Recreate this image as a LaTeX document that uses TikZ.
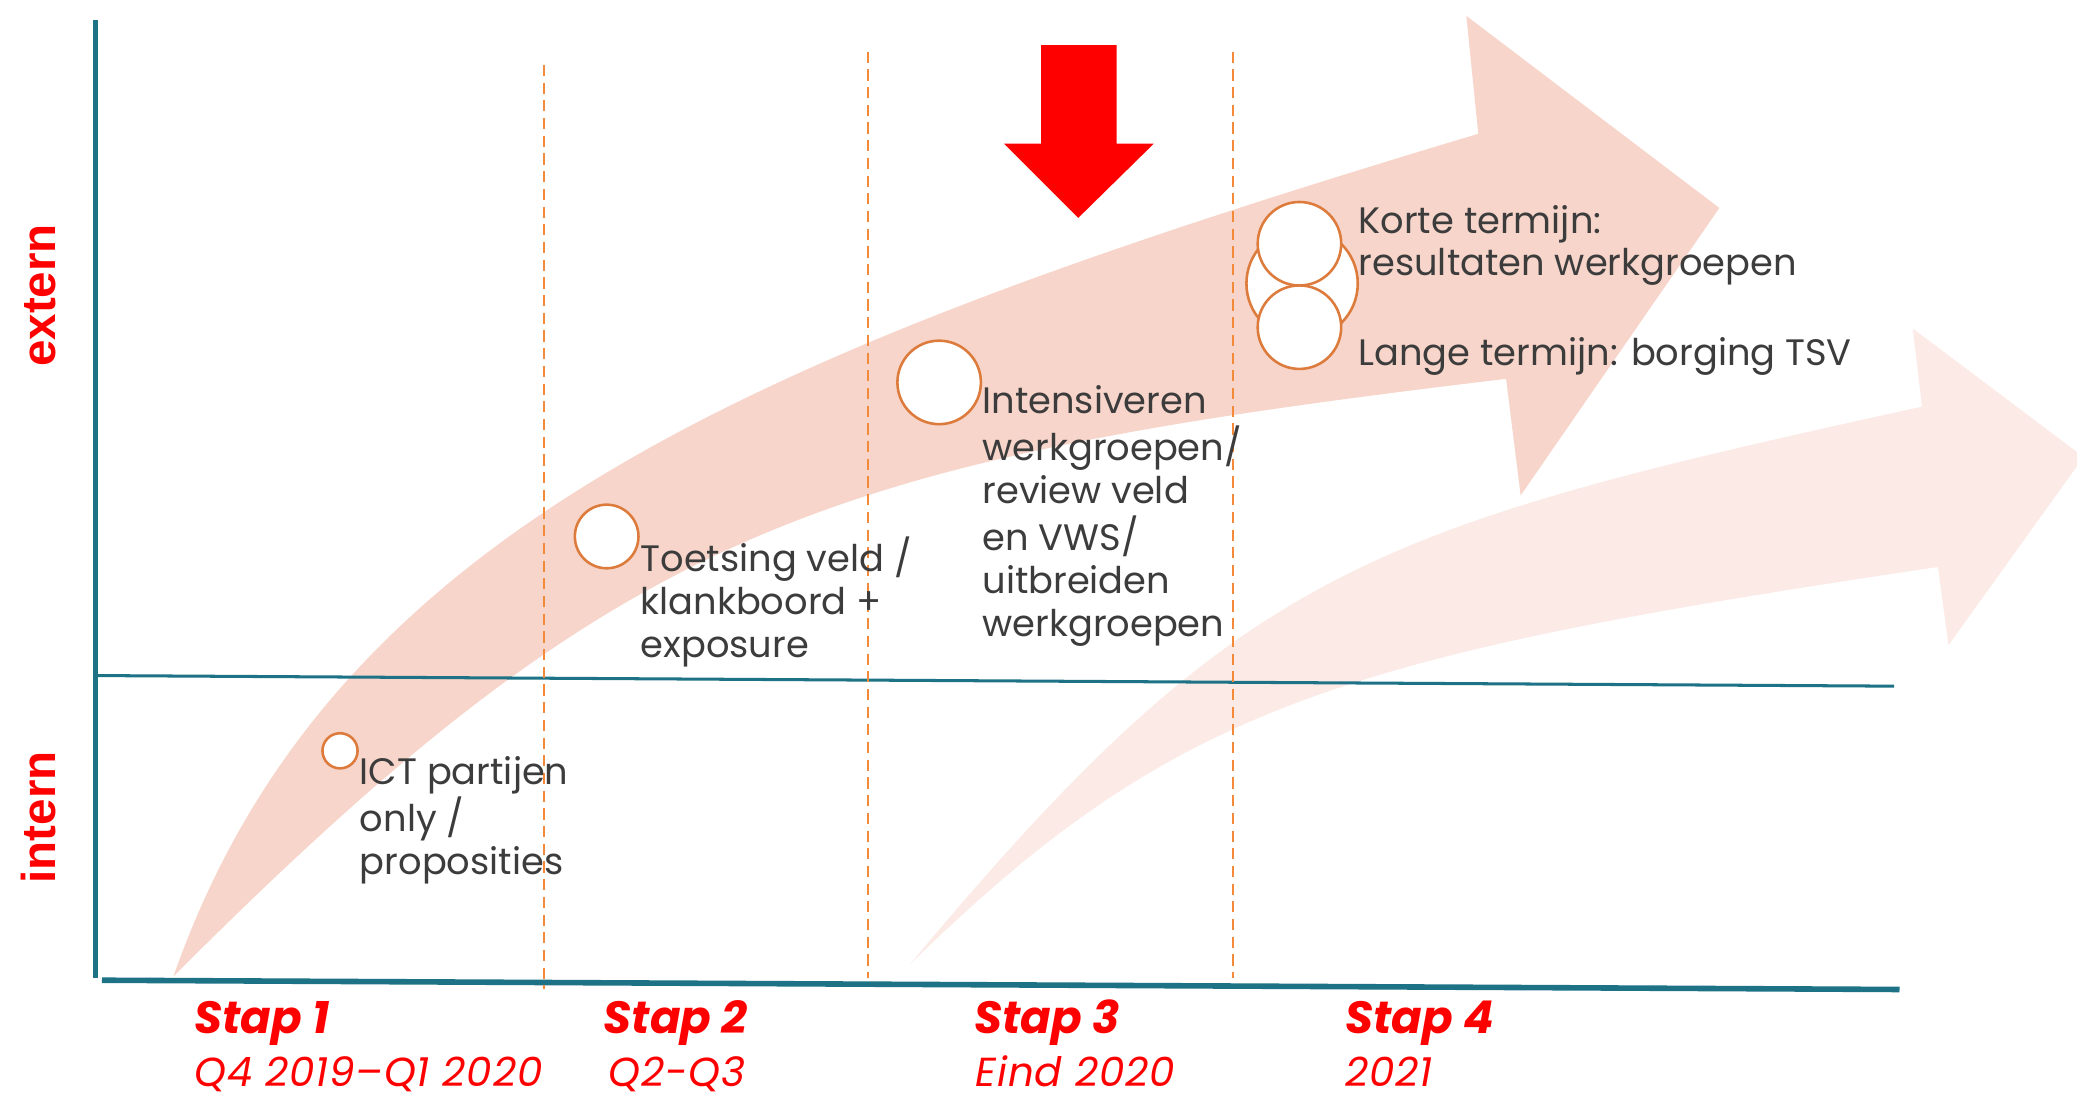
\documentclass[tikz,border=0pt]{standalone}
\usepackage{fontspec}
\setmainfont{Poppins}
\newfontfamily\axisfont{Liberation Sans}
\definecolor{bandA}{HTML}{F7D5CA}
\definecolor{bandB}{HTML}{FCEAE6}
\definecolor{tealc}{HTML}{1D7286}
\definecolor{dashc}{HTML}{F28A3A}
\definecolor{ringc}{HTML}{DC7B3B}
\definecolor{txtc}{HTML}{3C3C3C}
\definecolor{redc}{HTML}{FF0000}
\tikzset{
  ring/.style={circle, draw=ringc, fill=white, line width=0.55pt, inner sep=0pt},
  desc/.style={anchor=base west, inner sep=0pt, text=txtc, font=\fontsize{7.9pt}{9.16pt}\selectfont},
  staplbl/.style={anchor=base west, inner sep=0pt, text=redc, font=\fontsize{9.7pt}{11pt}\selectfont\bfseries\itshape},
  datelbl/.style={anchor=base west, inner sep=0pt, text=redc, font=\fontsize{8.7pt}{10pt}\selectfont\itshape\addfontfeature{LetterSpace=2}},
  sidelbl/.style={anchor=base, inner sep=0pt, rotate=90, text=redc, font=\axisfont\fontsize{10.2pt}{12pt}\selectfont\bfseries},
  phase/.style={dashc, line width=0.45pt, dash pattern=on 2.4pt off 1.4pt},
  axisline/.style={tealc, line width=0.95pt},
}
\begin{document}
\begin{tikzpicture}[x=0.01cm, y=-0.01cm]
\useasboundingbox (0,0) rectangle (1568,827);
\clip (0,0) rectangle (1568,827);
\fill[white] (0,0) rectangle (1568,827);

% second (light) arrow
\fill[bandB] (687,728) .. controls (937,428) and (1031,399) .. (1451,307)
  -- (1444,248) -- (1573,345) -- (1471,487) -- (1463,428)
  .. controls (1013,495) and (887,532) .. (687,728) -- cycle;

% main arrow
\fill[bandA] (131,737) .. controls (250,397) and (576,263) .. (1116,101)
  -- (1107,12) -- (1298,157) -- (1148,374) -- (1137,286)
  .. controls (617,348) and (471,397) .. (131,737) -- cycle;

% axes
\coordinate (ytop) at (72,15);
\coordinate (ybot) at (72,738);
\coordinate (xl) at (77,740);
\coordinate (xr) at (1434,747);
\coordinate (ml) at (72,510);
\coordinate (mr) at (1430,518);
\draw[axisline] (ytop) -- (ybot);
\draw[axisline, line width=1.2pt] (xl) -- (xr);
\draw[axisline, line width=0.65pt] (ml) -- (mr);

% phase separators
\coordinate (d1t) at (411,49);  \coordinate (d1b) at (411,747);
\coordinate (d2t) at (655,39);  \coordinate (d2b) at (655,738);
\coordinate (d3t) at (931,39);  \coordinate (d3b) at (931,738);
\draw[phase] (d1t) -- (d1b);
\draw[phase] (d2t) -- (d2b);
\draw[phase] (d3t) -- (d3b);

% red pointer arrow
\fill[redc] (786,34) -- (843,34) -- (843,108.5) -- (871,108.5) -- (814,164.5) -- (758,108.5) -- (786,108.5) -- cycle;

% side labels
\node[sidelbl] (extern) at (42,223) {extern};
\node[sidelbl] (intern) at (42,617) {intern};

% milestone circles
\node[ring, minimum size=0.265cm] (c1) at (256.7,566.8) {};
\node[ring, minimum size=0.48cm] (c2) at (458,405) {};
\node[ring, minimum size=0.63cm] (c3) at (709,288.7) {};
\node[ring, minimum size=0.84cm] (c4) at (983,214) {};
\node[ring, minimum size=0.63cm] (c4a) at (981,184) {};
\node[ring, minimum size=0.63cm] (c4b) at (981,247) {};

% descriptions
\node[desc] (t1) at (271,592) {\begin{tabular}[t]{@{}l@{}}ICT partijen\\only /\\proposities\end{tabular}};
\node[desc] (t2) at (483,431.6) {\begin{tabular}[t]{@{}l@{}}Toetsing veld /\\klankboord +\\exposure\end{tabular}};
\node[desc] (t3) at (741,312) {\begin{tabular}[t]{@{}l@{}}Intensiveren\\werkgroepen/\\review veld\\en VWS/\\uitbreiden\\werkgroepen\end{tabular}};
\node[desc] (t4a) at (1025,176) {\begin{tabular}[t]{@{}l@{}}Korte termijn:\\resultaten werkgroepen\end{tabular}};
\node[desc] (t4b) at (1025,276) {Lange termijn: borging TSV};

% step labels
\node[staplbl] (s1) at (146,780) {Stap 1};
\node[staplbl] (s2) at (455,780) {Stap 2};
\node[staplbl] (s3) at (735,780) {Stap 3};
\node[staplbl] (s4) at (1015,780) {Stap 4};
\node[datelbl] (q1) at (146,820) {Q4 2019–Q1 2020};
\node[datelbl] (q2) at (459,820) {Q2-Q3};
\node[datelbl] (q3) at (736,820) {Eind 2020};
\node[datelbl] (q4) at (1015,820) {2021};
\end{tikzpicture}
\end{document}
